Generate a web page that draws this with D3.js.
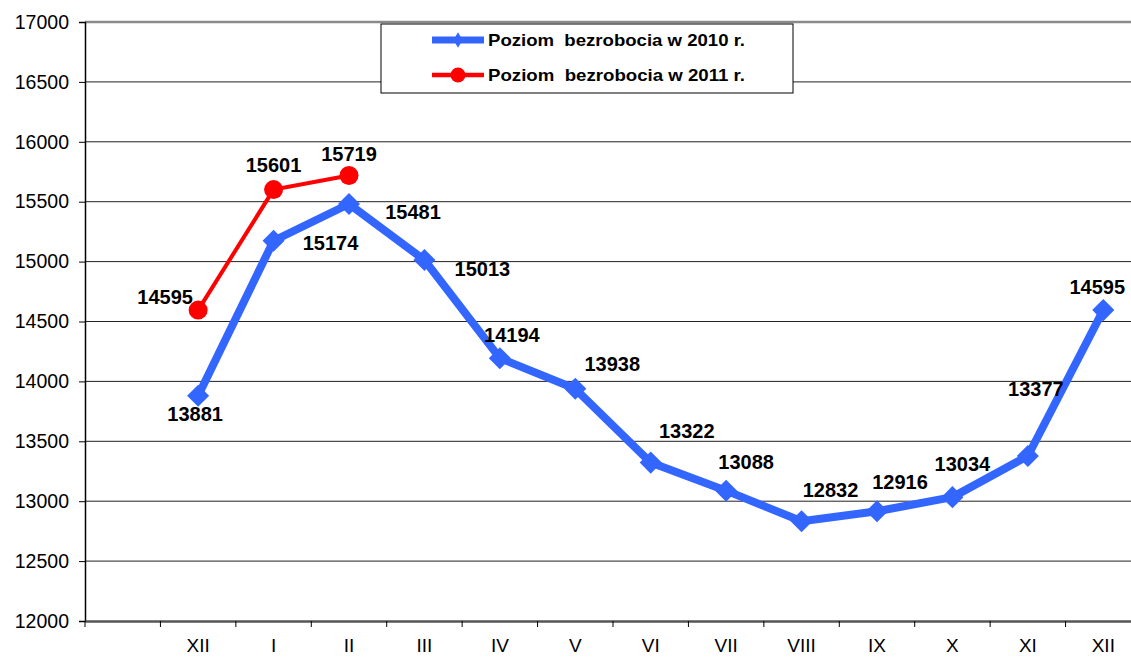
<!DOCTYPE html>
<html>
<head>
<meta charset="utf-8">
<script src="https://cdn.jsdelivr.net/npm/d3@7"></script>
<style>
  body { margin: 0; background: #fff; }
  svg { display: block; font-family: "Liberation Sans", Arial, sans-serif; }
</style>
</head>
<body>
<svg id="chart" width="1131" height="659"></svg>
<script>
// categories: first slot is empty, then Dec 2009 .. Dec 2010
var months = ["", "XII", "I", "II", "III", "IV", "V", "VI", "VII", "VIII", "IX", "X", "XI", "XII"];
var series2010 = [null, 13881, 15174, 15481, 15013, 14194, 13938, 13322, 13088, 12832, 12916, 13034, 13377, 14595];
var series2011 = [null, 14595, 15601, 15719];
var yTicks = [12000, 12500, 13000, 13500, 14000, 14500, 15000, 15500, 16000, 16500, 17000];
var legendNames = ["Poziom  bezrobocia w 2010 r.", "Poziom  bezrobocia w 2011 r."];

// label offsets (px) per point, same order as the series
var off2010 = [null, [-3, 18], [57, 2], [64, 8], [58, 9], [12, -23], [37, -25], [36, -32], [20, -29], [29, -31], [23, -29], [10, -33], [8, -67], [-6, -23]];
var off2011 = [null, [-33, -13], [0, -25], [0, -21]];

var svg = d3.select("#chart");
var mLeft = 85, mRight = 1141, mTop = 22, mBottom = 621;

var x = d3.scaleBand().domain(d3.range(months.length)).range([mLeft, mRight]);
var y = d3.scaleLinear().domain([12000, 17000]).range([mBottom, mTop]);
var cx = function(i) { return x(i) + x.bandwidth() / 2; };

// gridlines
svg.append("g").selectAll("line")
  .data(yTicks.slice(1))
  .enter().append("line")
  .attr("x1", mLeft).attr("x2", mRight)
  .attr("y1", function(d) { return y(d); }).attr("y2", function(d) { return y(d); })
  .attr("stroke", function(d) { return d == 17000 ? "#8a8a8a" : "#222"; })
  .attr("stroke-width", function(d) { return d == 17000 ? 2.5 : 1; });

// y axis
var yAxis = svg.append("g")
  .attr("transform", "translate(" + mLeft + ",0)")
  .call(d3.axisLeft(y).tickValues(yTicks).tickSize(6).tickPadding(10).tickFormat(d3.format("d")));
yAxis.select(".domain").attr("stroke", "#000").attr("stroke-width", 1.5);
yAxis.selectAll(".tick line").attr("stroke", "#000");
yAxis.selectAll("text").attr("font-size", 19.5).attr("fill", "#000")
  .attr("font-family", "Liberation Sans, Arial, sans-serif");

// x axis
var xAxis = svg.append("g")
  .attr("transform", "translate(0," + mBottom + ")")
  .call(d3.axisBottom(x).tickFormat(function(i) { return months[i]; }).tickSize(0).tickPadding(18));
xAxis.select(".domain").attr("stroke", "#555").attr("stroke-width", 2.5);
xAxis.selectAll("text").attr("font-size", 19).attr("fill", "#000")
  .attr("font-family", "Liberation Sans, Arial, sans-serif");
// tick marks sit on band edges
svg.append("g").selectAll("line")
  .data(d3.range(months.length))
  .enter().append("line")
  .attr("x1", function(i) { return x(i); }).attr("x2", function(i) { return x(i); })
  .attr("y1", mBottom).attr("y2", mBottom + 6)
  .attr("stroke", "#000");

var line = d3.line()
  .defined(function(d) { return d != null; })
  .x(function(d, i) { return cx(i); })
  .y(function(d) { return y(d); });

// 2010 series
svg.append("path").datum(series2010)
  .attr("d", line).attr("fill", "none")
  .attr("stroke", "#3366ff").attr("stroke-width", 8).attr("stroke-linejoin", "round");
var diamond = d3.symbol().type(d3.symbolDiamond2).size(310);
svg.append("g").selectAll("path")
  .data(series2010.map(function(v, i) { return { v: v, i: i }; }).filter(function(d) { return d.v != null; }))
  .enter().append("path")
  .attr("d", diamond)
  .attr("transform", function(d) { return "translate(" + cx(d.i) + "," + y(d.v) + ")"; })
  .attr("fill", "#3366ff");

// 2011 series
svg.append("path").datum(series2011)
  .attr("d", line).attr("fill", "none")
  .attr("stroke", "#ff0000").attr("stroke-width", 4);
svg.append("g").selectAll("circle")
  .data(series2011.map(function(v, i) { return { v: v, i: i }; }).filter(function(d) { return d.v != null; }))
  .enter().append("circle")
  .attr("cx", function(d) { return cx(d.i); })
  .attr("cy", function(d) { return y(d.v); })
  .attr("r", 9.5).attr("fill", "#ff0000");

// value labels
function labels(data, offs) {
  svg.append("g").selectAll("text")
    .data(data.map(function(v, i) { return { v: v, i: i }; }).filter(function(d) { return d.v != null; }))
    .enter().append("text")
    .attr("x", function(d) { return cx(d.i) + offs[d.i][0]; })
    .attr("y", function(d) { return y(d.v) + offs[d.i][1]; })
    .attr("dy", "0.35em")
    .attr("text-anchor", "middle")
    .attr("font-size", 20).attr("font-weight", "bold")
    .text(function(d) { return d.v; });
}
labels(series2010, off2010);
labels(series2011, off2011);

// legend
var lg = svg.append("g").attr("transform", "translate(381,24)");
lg.append("rect").attr("width", 412).attr("height", 69)
  .attr("fill", "#fff").attr("stroke", "#000").attr("stroke-width", 1);
var colors = ["#3366ff", "#ff0000"];
legendNames.forEach(function(name, k) {
  var ly = 16 + k * 35;
  lg.append("line").attr("x1", 51).attr("x2", 103).attr("y1", ly).attr("y2", ly)
    .attr("stroke", colors[k]).attr("stroke-width", k == 0 ? 7 : 4.5);
  if (k == 0) {
    lg.append("path").attr("d", d3.symbol().type(d3.symbolDiamond).size(70))
      .attr("transform", "translate(77," + ly + ")").attr("fill", colors[k]);
  } else {
    lg.append("circle").attr("cx", 77).attr("cy", ly).attr("r", 7.5).attr("fill", colors[k]);
  }
  lg.append("text").attr("x", 107).attr("y", ly).attr("dy", "0.35em")
    .attr("font-size", 17).attr("font-weight", "bold")
    .attr("textLength", 257).attr("lengthAdjust", "spacingAndGlyphs")
    .style("white-space", "pre")
    .text(name);
});
</script>
</body>
</html>
